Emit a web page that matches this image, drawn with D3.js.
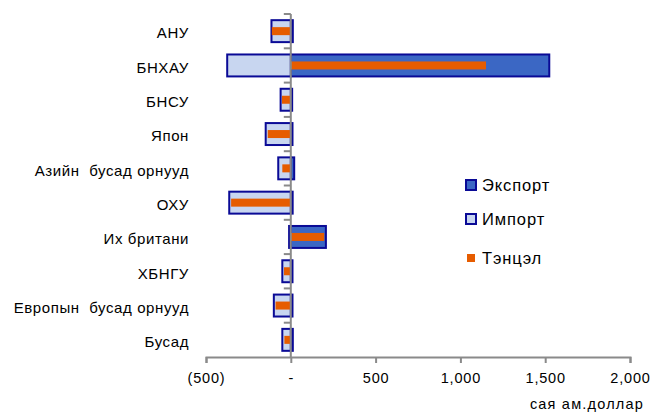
<!DOCTYPE html>
<html>
<head>
<meta charset="utf-8">
<script src="https://cdnjs.cloudflare.com/ajax/libs/d3/7.8.5/d3.min.js"></script>
<style>
    body { margin: 0; background: #fff; }
    text { font-family: "Liberation Sans", Arial, sans-serif; fill: #000; }
</style>
</head>
<body>
<div id="chart"></div>
<script>
var categories = ["АНУ", "БНХАУ", "БНСУ", "Япон", "Азийн  бусад орнууд", "ОХУ",
    "Их британи", "ХБНГУ", "Европын  бусад орнууд", "Бусад"];
var exportValues = [12, 1524, 8, 10, 20, 11, 207, 10, 10, 12];
var importValues = [-114, -375, -60, -148, -74, -363, -10, -50, -100, -50];
var balanceValues = [-112, 1151, -52, -136, -50, -352, 197, -40, -90, -38];
var xTicks = [-500, 0, 500, 1000, 1500, 2000];
var legendItems = ["Экспорт", "Импорт", "Тэнцэл"];

(function(){
    'use strict';

    var width = 654, height = 412;
    var border = "#0a0a96", exportColor = "#3b67c4", importColor = "#c8d6f0",
        balanceColor = "#e65c00", axisColor = "#8a8a8a";

    function format(s) {
        var args = Array.prototype.slice.call(arguments, 1), i = 0;
        return s.replace(/\{\}/g, function() { return args[i++]; });
    }

    var rows = categories.map(function(c, i) {
        return {name: c, exp: exportValues[i], imp: importValues[i], bal: balanceValues[i]};
    });

    var svg = d3.select("#chart")
        .append("svg")
        .attr('width', width)
        .attr('height', height);

    var x = d3.scaleLinear()
        .domain([-500, 2000])
        .range([206, 630]);

    var y = d3.scaleBand()
        .domain(categories)
        .range([14, 357])
        .paddingInner(0.36)
        .paddingOuter(0.18);

    var step = y.step();

    var bars = svg.append('g');

    // export bars
    bars.selectAll("rect.exp").data(rows)
        .enter().append("rect")
        .attr('class', 'exp')
        .attr('x', x(0))
        .attr('y', function(d) { return y(d.name); })
        .attr('width', function(d) { return x(d.exp) - x(0); })
        .attr('height', y.bandwidth())
        .attr('fill', exportColor)
        .attr('stroke', border)
        .attr('stroke-width', 2);

    // import bars
    bars.selectAll("rect.imp").data(rows)
        .enter().append("rect")
        .attr('class', 'imp')
        .attr('x', function(d) { return x(d.imp); })
        .attr('y', function(d) { return y(d.name); })
        .attr('width', function(d) { return x(0) - x(d.imp); })
        .attr('height', y.bandwidth())
        .attr('fill', importColor)
        .attr('stroke', border)
        .attr('stroke-width', 2);

    // balance bars
    var bh = 8;
    bars.selectAll("rect.bal").data(rows)
        .enter().append("rect")
        .attr('class', 'bal')
        .attr('x', function(d) { return Math.min(x(0), x(d.bal)); })
        .attr('y', function(d) { return y(d.name) + y.bandwidth() / 2 - bh / 2; })
        .attr('width', function(d) { return Math.abs(x(d.bal) - x(0)); })
        .attr('height', bh)
        .attr('fill', balanceColor);

    // x axis
    var xAxis = svg.append('g')
        .attr('transform', format('translate(0, {})', 357))
        .call(d3.axisBottom(x)
            .tickValues(xTicks)
            .tickSize(6)
            .tickPadding(10)
            .tickFormat(function(d) {
                if (d === 0) return "-";
                var s = d3.format(",")(Math.abs(d));
                return d < 0 ? "(" + s + ")" : s;
            }));
    xAxis.select(".domain").attr('stroke', axisColor).attr('stroke-width', 2);
    xAxis.selectAll(".tick line").attr('stroke', axisColor).attr('stroke-width', 2);
    xAxis.selectAll(".tick text")
        .attr('font-size', 14.5)
        .attr('letter-spacing', 0.8)
        .attr('font-family', '"Liberation Sans", Arial, sans-serif')
        .attr('fill', '#000');

    // y axis
    var yAxis = svg.append('g')
        .attr('transform', format('translate({}, 0)', x(0)));
    yAxis.append('line')
        .attr('y1', 14).attr('y2', 357)
        .attr('stroke', axisColor).attr('stroke-width', 2);
    yAxis.selectAll('line.tk').data(categories)
        .enter().append('line')
        .attr('class', 'tk')
        .attr('x1', -7).attr('x2', 0)
        .attr('y1', function(d) { return y(d) - y.paddingOuter() * step; })
        .attr('y2', function(d) { return y(d) - y.paddingOuter() * step; })
        .attr('stroke', axisColor).attr('stroke-width', 2);

    // category labels
    svg.append('g').selectAll('text').data(categories)
        .enter().append('text')
        .attr('x', 189)
        .attr('y', function(d) { return y(d) + y.bandwidth() / 2 + 2; })
        .attr('dy', '0.35em')
        .attr('text-anchor', 'end')
        .attr('font-size', 15)
        .attr('letter-spacing', 0.6)
        .style('white-space', 'pre')
        .text(function(d) { return d; });

    // legend
    var legendY = [185, 219, 258];
    var legend = svg.append('g').selectAll('g').data(legendItems)
        .enter().append('g')
        .attr('transform', function(d, i) { return format('translate({}, {})', 466, legendY[i]); });
    legend.append('rect')
        .attr('x', function(d, i) { return i === 2 ? 1 : 0; })
        .attr('y', function(d, i) { return i === 2 ? -4 : -5; })
        .attr('width', function(d, i) { return i === 2 ? 8 : 10; })
        .attr('height', function(d, i) { return i === 2 ? 8 : 10; })
        .attr('fill', function(d, i) { return [exportColor, importColor, balanceColor][i]; })
        .attr('stroke', function(d, i) { return i === 2 ? 'none' : border; })
        .attr('stroke-width', 2);
    legend.append('text')
        .attr('x', 16)
        .attr('dy', '0.35em')
        .attr('font-size', 16.5)
        .attr('letter-spacing', 0.9)
        .text(function(d) { return d; });

    // unit label
    svg.append('text')
        .attr('x', 644)
        .attr('y', 409)
        .attr('text-anchor', 'end')
        .attr('font-size', 14.5)
        .attr('letter-spacing', 1.2)
        .text("сая ам.доллар");
})()
</script>
</body>
</html>
